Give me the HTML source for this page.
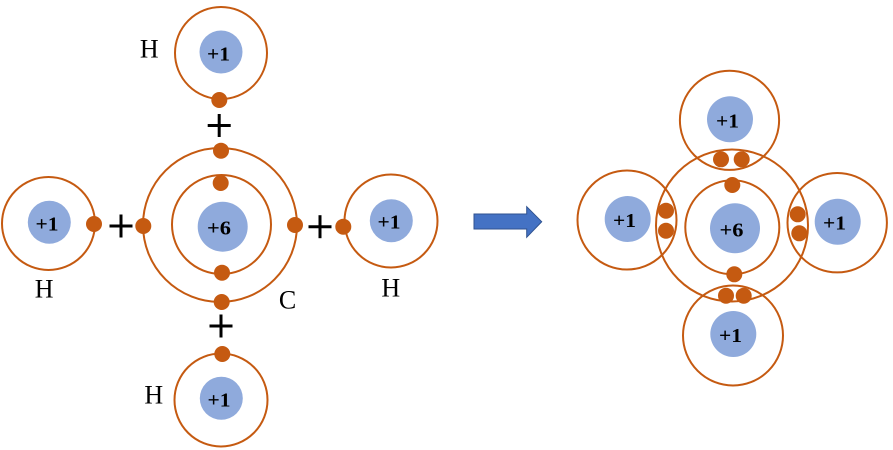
<!DOCTYPE html>
<html><head><meta charset="utf-8"><style>
html,body{margin:0;padding:0;background:#fff;}
svg{display:block;}
text{font-family:"Liberation Serif",serif;}
</style></head><body>
<svg width="893" height="450" viewBox="0 0 893 450" xmlns="http://www.w3.org/2000/svg">
<g fill="none" stroke="#C55A11" stroke-width="2">
  <circle cx="221" cy="53" r="46"/>
  <circle cx="48.5" cy="223.5" r="46.5"/>
  <circle cx="391" cy="221" r="46.5"/>
  <circle cx="221" cy="400" r="46.5"/>
  <circle cx="220" cy="225" r="77"/>
  <circle cx="221.5" cy="224.5" r="49.5"/>
  <circle cx="732" cy="225.5" r="76"/>
  <circle cx="732.3" cy="227.3" r="47"/>
  <circle cx="729.5" cy="120.3" r="49.6"/>
  <circle cx="627" cy="220" r="49.5"/>
  <circle cx="837.2" cy="222.7" r="49.7"/>
  <circle cx="733" cy="335.5" r="50"/>
</g>
<g fill="#8FAADC">
  <circle cx="221" cy="52" r="21.5"/>
  <circle cx="49.3" cy="222.3" r="21.5"/>
  <circle cx="391.3" cy="220.7" r="21.5"/>
  <circle cx="221.3" cy="398.3" r="21.5"/>
  <circle cx="222.7" cy="226.7" r="25"/>
  <circle cx="735" cy="228.3" r="25"/>
  <circle cx="730" cy="119.3" r="23"/>
  <circle cx="627.7" cy="219" r="23"/>
  <circle cx="837.7" cy="221.7" r="23"/>
  <circle cx="733.3" cy="334" r="23"/>
</g>
<g fill="#C55A11">
  <circle cx="219.3" cy="100" r="8"/>
  <circle cx="94" cy="224" r="8"/>
  <circle cx="343.3" cy="226.7" r="8"/>
  <circle cx="222.3" cy="354" r="8"/>
  <circle cx="221" cy="150.7" r="8"/>
  <circle cx="220.7" cy="183" r="8"/>
  <circle cx="222" cy="272.7" r="8"/>
  <circle cx="221.7" cy="302" r="8"/>
  <circle cx="143.3" cy="226" r="8"/>
  <circle cx="295" cy="225" r="8"/>
  <circle cx="721" cy="159.3" r="8"/>
  <circle cx="741.7" cy="159.3" r="8"/>
  <circle cx="732.3" cy="185" r="8"/>
  <circle cx="734.3" cy="274.3" r="8"/>
  <circle cx="726" cy="295.7" r="8"/>
  <circle cx="743.7" cy="295.7" r="8"/>
  <circle cx="666" cy="210.7" r="8"/>
  <circle cx="666" cy="230.7" r="8"/>
  <circle cx="797.7" cy="214.3" r="8"/>
  <circle cx="799.3" cy="233.3" r="8"/>
</g>
<g font-family="Liberation Serif, serif" font-weight="bold" font-size="20" fill="#000">
  <text x="207" y="60.7" textLength="23" lengthAdjust="spacingAndGlyphs">+1</text>
  <text x="35.5" y="230.5" textLength="23" lengthAdjust="spacingAndGlyphs">+1</text>
  <text x="377.5" y="228.5" textLength="23" lengthAdjust="spacingAndGlyphs">+1</text>
  <text x="207.5" y="406.5" textLength="23" lengthAdjust="spacingAndGlyphs">+1</text>
  <text x="207" y="234.3" textLength="24" lengthAdjust="spacingAndGlyphs">+6</text>
  <text x="716" y="127.3" textLength="23" lengthAdjust="spacingAndGlyphs">+1</text>
  <text x="613" y="227" textLength="23" lengthAdjust="spacingAndGlyphs">+1</text>
  <text x="823" y="229.7" textLength="23" lengthAdjust="spacingAndGlyphs">+1</text>
  <text x="719" y="342" textLength="23" lengthAdjust="spacingAndGlyphs">+1</text>
  <text x="719.5" y="236.3" textLength="24" lengthAdjust="spacingAndGlyphs">+6</text>
</g>
<g font-family="Liberation Serif, serif" font-size="26" fill="#000" text-anchor="middle">
  <text x="149.3" y="57.3">H</text>
  <text x="44.2" y="297.3">H</text>
  <text x="390.8" y="296.7">H</text>
  <text x="153.8" y="403.3">H</text>
  <text x="287.5" y="308.3">C</text>
</g>
<g stroke="#000" stroke-width="3">
  <line x1="207.7" y1="125.5" x2="230.7" y2="125.5"/><line x1="219.2" y1="114" x2="219.2" y2="137"/>
  <line x1="109.5" y1="226" x2="132.5" y2="226"/><line x1="121" y1="214.5" x2="121" y2="237.5"/>
  <line x1="308.5" y1="226.7" x2="331.5" y2="226.7"/><line x1="320" y1="215.2" x2="320" y2="238.2"/>
  <line x1="209.5" y1="326" x2="232.5" y2="326"/><line x1="221" y1="314.5" x2="221" y2="337.5"/>
</g>
<polygon points="474,214 526.7,214 526.7,206.7 541.7,221.7 526.7,237.3 526.7,229 474,229" fill="#4472C4" stroke="#2F528F" stroke-width="1"/>
</svg>
</body></html>
